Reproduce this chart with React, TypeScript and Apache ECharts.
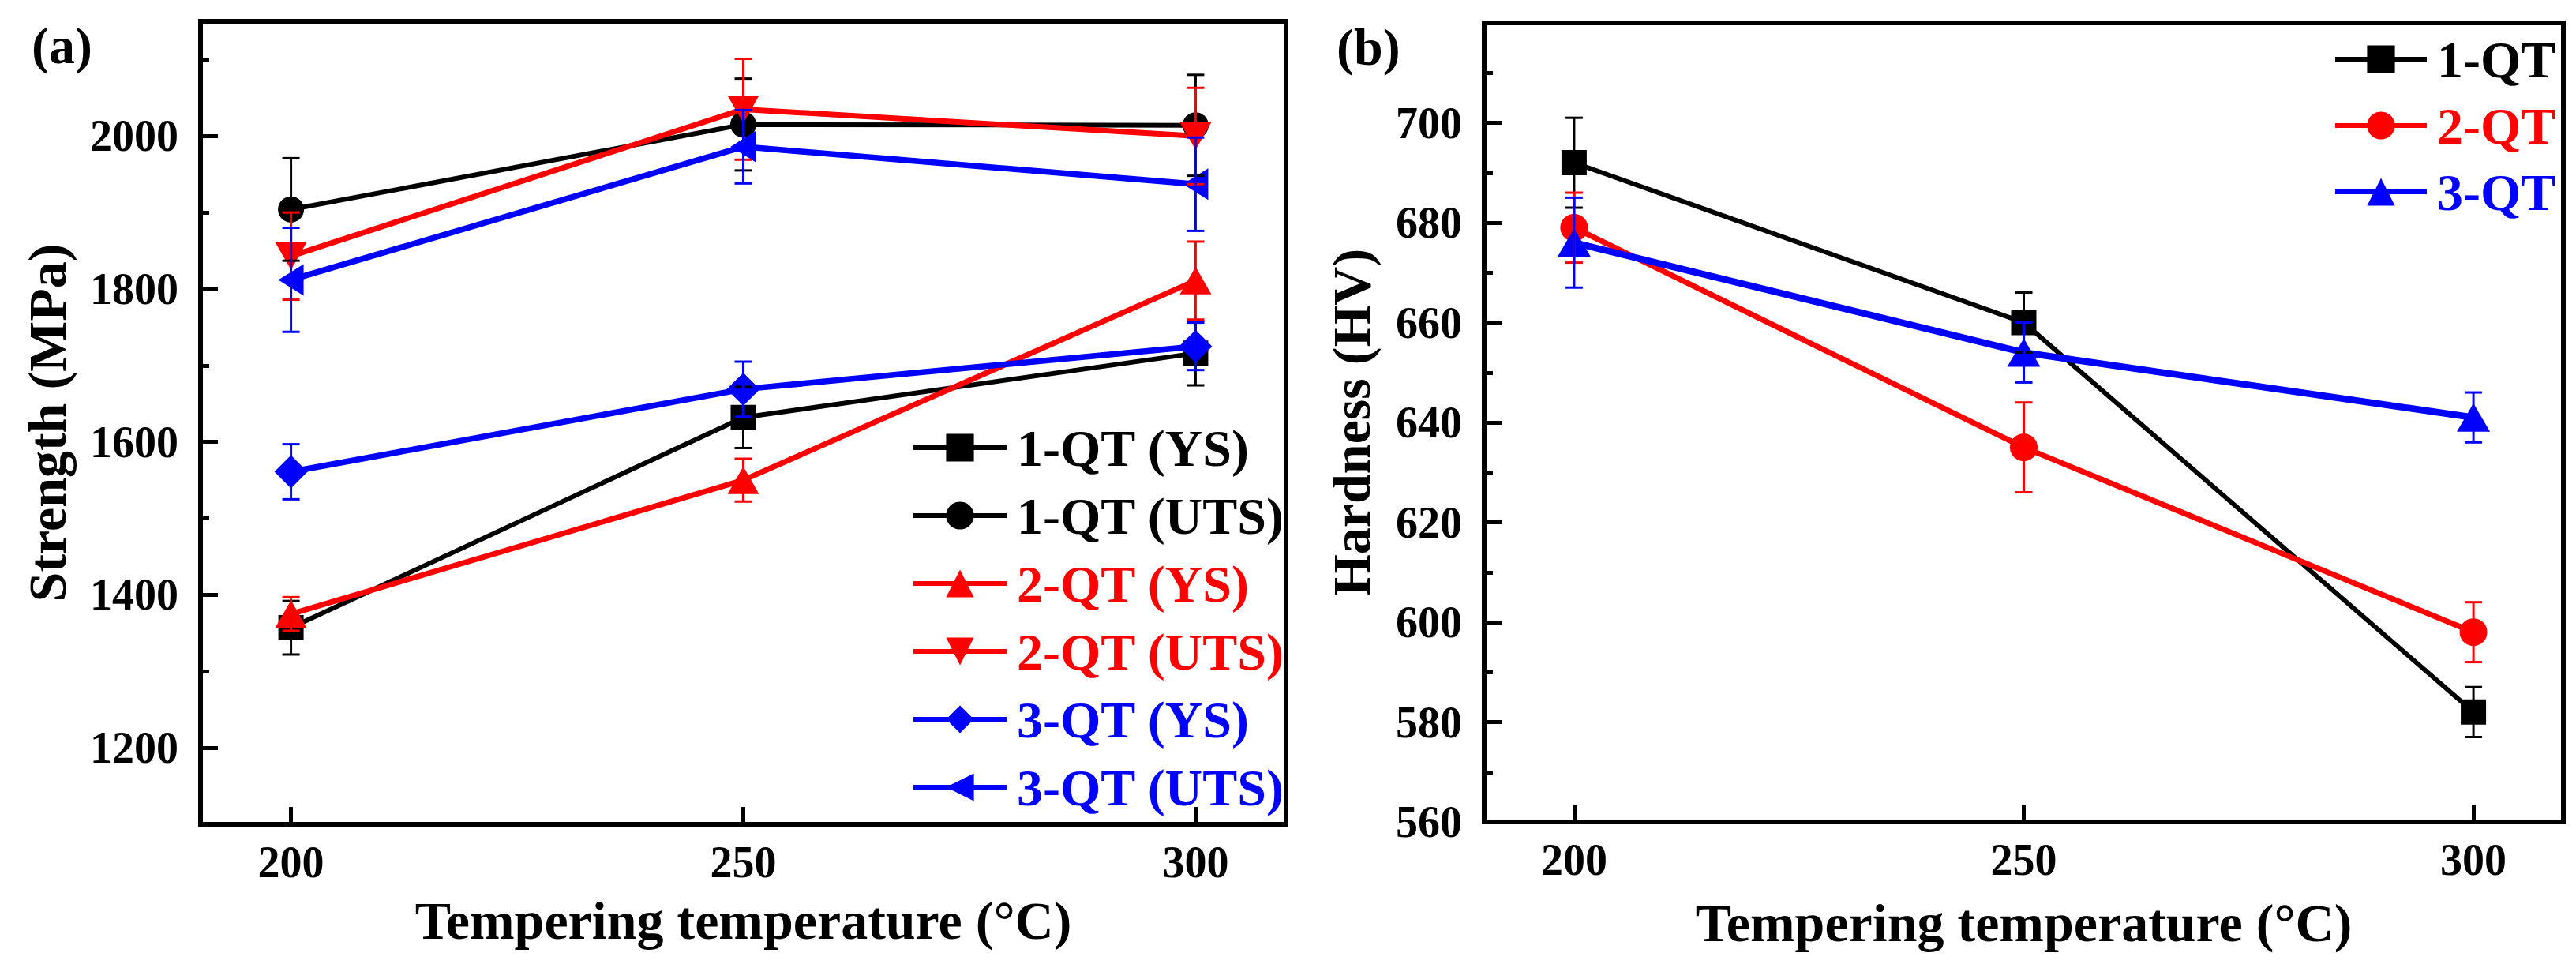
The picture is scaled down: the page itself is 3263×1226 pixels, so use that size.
import React, { useEffect, useRef } from 'react';
import * as echarts from 'echarts';

// tempering temperatures (°C)
const temps = [200, 250, 300];

// panel (a) strength, MPa, with error half-widths
const ys1 = [1357, 1632, 1716];
const ys1Err = [35, 40, 42];
const uts1 = [1904, 2015, 2014];
const uts1Err = [67, 60, 66];
const ys2 = [1375, 1550, 1811];
const ys2Err = [22, 28, 51];
const uts2 = [1843, 2035, 2000];
const uts2Err = [57, 66, 63];
const ys3 = [1561, 1669, 1725];
const ys3Err = [36, 36, 31];
const uts3 = [1812, 1986, 1937];
const uts3Err = [68, 48, 61];

// panel (b) hardness, HV
const hv1 = [692, 660, 582];
const hv1Err = [9, 6, 5];
const hv2 = [679, 635, 598];
const hv2Err = [7, 9, 6];
const hv3 = [676, 654, 641];
const hv3Err = [9, 6, 5];

// tick values
const strengthTicks = [1200, 1400, 1600, 1800, 2000];
const strengthMinor = [1300, 1500, 1700, 1900, 2100];
const hardnessTicks = [560, 580, 600, 620, 640, 660, 680, 700];
const hardnessMinor = [570, 590, 610, 630, 650, 670, 690, 710];

const FONT = '"Liberation Serif", "Times New Roman", serif';
const BLACK = '#000000';
const RED = '#ff0000';
const BLUE = '#0000ff';

const textBase = { fontFamily: FONT, fontWeight: 'bold' as const, color: '#000' };
const plain = (v: number) => String(v);

const pts = (vals: number[]) => temps.map((t, i) => [t, vals[i]]);

function lineSeries(
  name: string,
  vals: number[],
  color: string,
  symbol: string,
  size: number | number[],
  rotate: number,
  width: number,
  xi: number,
  yi: number
) {
  return {
    type: 'line',
    name,
    xAxisIndex: xi,
    yAxisIndex: yi,
    data: pts(vals),
    symbol,
    symbolSize: size,
    symbolRotate: rotate,
    showSymbol: true,
    lineStyle: { color, width },
    itemStyle: { color },
    z: 3,
  };
}

function errorSeries(name: string, vals: number[], errs: number[], color: string, xi: number, yi: number) {
  return {
    type: 'custom',
    name,
    xAxisIndex: xi,
    yAxisIndex: yi,
    z: 5,
    silent: true,
    data: temps.map((t, i) => [t, vals[i], errs[i]]),
    renderItem: (_params: any, api: any) => {
      const x = api.value(0);
      const y = api.value(1);
      const e = api.value(2);
      const hi = api.coord([x, y + e]);
      const lo = api.coord([x, y - e]);
      const style = { stroke: color, lineWidth: 3 };
      const hw = 11;
      return {
        type: 'group',
        children: [
          { type: 'line', shape: { x1: hi[0], y1: hi[1], x2: lo[0], y2: lo[1] }, style },
          { type: 'line', shape: { x1: hi[0] - hw, y1: hi[1], x2: hi[0] + hw, y2: hi[1] }, style },
          { type: 'line', shape: { x1: lo[0] - hw, y1: lo[1], x2: lo[0] + hw, y2: lo[1] }, style },
        ],
      };
    },
  };
}

function xAxisFor(gridIndex: number, nameGap: number) {
  return {
    gridIndex,
    type: 'value',
    min: 190,
    max: 310,
    axisLine: { onZero: false, lineStyle: { color: '#000', width: 6 } },
    axisTick: { inside: true, length: 22, customValues: temps, lineStyle: { color: '#000', width: 5 } },
    axisLabel: { customValues: temps, formatter: plain, fontSize: 56, margin: 20, ...textBase },
    splitLine: { show: false },
    name: 'Tempering temperature (°C)',
    nameLocation: 'middle',
    nameGap,
    nameTextStyle: { fontSize: 68, ...textBase },
  };
}

function yAxisMajor(gridIndex: number, min: number, max: number, ticks: number[], name: string, nameGap: number) {
  return {
    gridIndex,
    type: 'value',
    position: 'left',
    min,
    max,
    axisLine: { onZero: false, lineStyle: { color: '#000', width: 6 } },
    axisTick: { inside: true, length: 22, customValues: ticks, lineStyle: { color: '#000', width: 5 } },
    axisLabel: { customValues: ticks, formatter: plain, fontSize: 56, margin: 28, ...textBase },
    splitLine: { show: false },
    name,
    nameLocation: 'middle',
    nameGap,
    nameTextStyle: { fontSize: 68, ...textBase },
  };
}

function yAxisMinor(gridIndex: number, min: number, max: number, ticks: number[]) {
  return {
    gridIndex,
    type: 'value',
    position: 'left',
    min,
    max,
    axisLine: { show: false },
    axisTick: { inside: true, length: 11, customValues: ticks, lineStyle: { color: '#000', width: 5 } },
    axisLabel: { show: false },
    splitLine: { show: false },
  };
}

const App: React.FC = () => {
  const chartRef = useRef<HTMLDivElement | null>(null);

  useEffect(() => {
    if (!chartRef.current) return;
    document.body.style.margin = '0';
    const chart = echarts.init(chartRef.current, null, { renderer: 'svg' });

    const legendText = { fontSize: 66, padding: [0, 0, 0, 8], ...textBase };

    const option = {
      animation: false,
      backgroundColor: '#ffffff',
      grid: [
        { left: 254, top: 27, width: 1375, height: 1017, show: true, borderColor: '#000', borderWidth: 6 },
        { left: 1880, top: 29, width: 1367, height: 1012, show: true, borderColor: '#000', borderWidth: 6 },
      ],
      xAxis: [xAxisFor(0, 88), xAxisFor(1, 94)],
      yAxis: [
        yAxisMajor(0, 1100, 2150, strengthTicks, 'Strength (MPa)', 160),
        yAxisMinor(0, 1100, 2150, strengthMinor),
        yAxisMajor(1, 560, 720, hardnessTicks, 'Hardness (HV)', 134),
        yAxisMinor(1, 560, 720, hardnessMinor),
      ],
      legend: [
        {
          orient: 'vertical',
          left: 1149,
          top: 529,
          itemWidth: 118,
          itemHeight: 44,
          itemGap: 20,
          selectedMode: false,
          lineStyle: { width: 6 },
          textStyle: legendText,
          data: [
            { name: '1-QT (YS)', textStyle: { color: BLACK } },
            { name: '1-QT (UTS)', textStyle: { color: BLACK } },
            { name: '2-QT (YS)', textStyle: { color: RED } },
            { name: '2-QT (UTS)', textStyle: { color: RED } },
            { name: '3-QT (YS)', textStyle: { color: BLUE } },
            { name: '3-QT (UTS)', textStyle: { color: BLUE } },
          ],
        },
        {
          orient: 'vertical',
          left: 2950,
          top: 37,
          itemWidth: 116,
          itemHeight: 44,
          itemGap: 18,
          selectedMode: false,
          lineStyle: { width: 6 },
          textStyle: legendText,
          data: [
            { name: '1-QT', textStyle: { color: BLACK } },
            { name: '2-QT', textStyle: { color: RED } },
            { name: '3-QT', textStyle: { color: BLUE } },
          ],
        },
      ],
      graphic: [
        { type: 'text', left: 40, top: 24, style: { text: '(a)', fontSize: 66, ...textBase, fill: '#000' } },
        { type: 'text', left: 1693, top: 26, style: { text: '(b)', fontSize: 66, ...textBase, fill: '#000' } },
      ],
      series: [
        lineSeries('1-QT (YS)', ys1, BLACK, 'rect', 32, 0, 6, 0, 0),
        lineSeries('1-QT (UTS)', uts1, BLACK, 'circle', 33, 0, 6, 0, 0),
        lineSeries('2-QT (YS)', ys2, RED, 'triangle', [40, 35], 0, 7, 0, 0),
        lineSeries('2-QT (UTS)', uts2, RED, 'triangle', [40, 35], 180, 7, 0, 0),
        lineSeries('3-QT (YS)', ys3, BLUE, 'diamond', 42, 0, 7.5, 0, 0),
        lineSeries('3-QT (UTS)', uts3, BLUE, 'triangle', [40, 32], 90, 7.5, 0, 0),
        errorSeries('e-1-QT (YS)', ys1, ys1Err, BLACK, 0, 0),
        errorSeries('e-1-QT (UTS)', uts1, uts1Err, BLACK, 0, 0),
        errorSeries('e-2-QT (YS)', ys2, ys2Err, RED, 0, 0),
        errorSeries('e-2-QT (UTS)', uts2, uts2Err, RED, 0, 0),
        errorSeries('e-3-QT (YS)', ys3, ys3Err, BLUE, 0, 0),
        errorSeries('e-3-QT (UTS)', uts3, uts3Err, BLUE, 0, 0),
        lineSeries('1-QT', hv1, BLACK, 'rect', 32, 0, 6, 1, 2),
        lineSeries('2-QT', hv2, RED, 'circle', 35, 0, 7, 1, 2),
        lineSeries('3-QT', hv3, BLUE, 'triangle', [42, 36], 0, 8.5, 1, 2),
        errorSeries('e-1-QT', hv1, hv1Err, BLACK, 1, 2),
        errorSeries('e-2-QT', hv2, hv2Err, RED, 1, 2),
        errorSeries('e-3-QT', hv3, hv3Err, BLUE, 1, 2),
      ],
    };

    chart.setOption(option as any);

    const handleResize = () => chart.resize();
    window.addEventListener('resize', handleResize);

    return () => {
      window.removeEventListener('resize', handleResize);
      chart.dispose();
    };
  }, []);

  return (
    <div
      ref={chartRef}
      style={{ position: 'absolute', left: 0, top: 0, width: '3263px', height: '1226px', background: '#fff' }}
    />
  );
};

export default App;
